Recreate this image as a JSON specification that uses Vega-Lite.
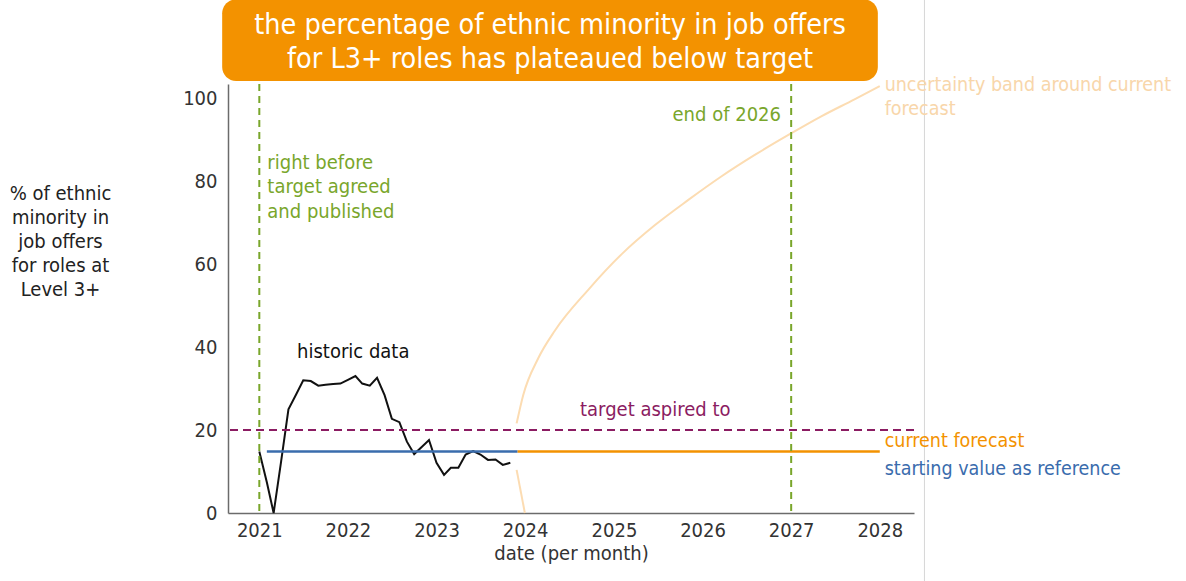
{
  "$schema": "https://vega.github.io/schema/vega-lite/v6.json",
  "width": 686,
  "height": 429,
  "autosize": {"type": "none"},
  "padding": {"left": 228, "top": 84, "right": 272, "bottom": 68},
  "background": "white",
  "config": {
    "view": {"stroke": null},
    "font": "DejaVu Sans Condensed",
    "axis": {"grid": false, "ticks": false, "domainColor": "#6b6b6b", "domainWidth": 1.5, "labelFontSize": 20, "labelColor": "#333333", "titleFontSize": 20, "titleFontWeight": "normal", "titleColor": "#333333"}
  },
  "datasets": {
    "historic": [
      {"month": "2021-01-01", "pct": 14.8},
      {"month": "2021-02-01", "pct": 7.4},
      {"month": "2021-03-01", "pct": 0.0},
      {"month": "2021-04-01", "pct": 12.5},
      {"month": "2021-05-01", "pct": 25.0},
      {"month": "2021-06-01", "pct": 28.5},
      {"month": "2021-07-01", "pct": 32.0},
      {"month": "2021-08-01", "pct": 31.8},
      {"month": "2021-09-01", "pct": 30.7},
      {"month": "2021-10-01", "pct": 30.9},
      {"month": "2021-11-01", "pct": 31.1},
      {"month": "2021-12-01", "pct": 31.2},
      {"month": "2022-01-01", "pct": 32.1},
      {"month": "2022-02-01", "pct": 33.0},
      {"month": "2022-03-01", "pct": 31.2},
      {"month": "2022-04-01", "pct": 30.7},
      {"month": "2022-05-01", "pct": 32.6},
      {"month": "2022-06-01", "pct": 28.4},
      {"month": "2022-07-01", "pct": 22.7},
      {"month": "2022-08-01", "pct": 21.9},
      {"month": "2022-09-01", "pct": 17.2},
      {"month": "2022-10-01", "pct": 14.2},
      {"month": "2022-11-01", "pct": 15.9},
      {"month": "2022-12-01", "pct": 17.6},
      {"month": "2023-01-01", "pct": 12.1},
      {"month": "2023-02-01", "pct": 9.2},
      {"month": "2023-03-01", "pct": 10.9},
      {"month": "2023-04-01", "pct": 10.9},
      {"month": "2023-05-01", "pct": 14.1},
      {"month": "2023-06-01", "pct": 14.9},
      {"month": "2023-07-01", "pct": 14.1},
      {"month": "2023-08-01", "pct": 12.8},
      {"month": "2023-09-01", "pct": 12.9},
      {"month": "2023-10-01", "pct": 11.6},
      {"month": "2023-11-01", "pct": 12.1}
    ],
    "reference": [
      {"month": "2021-02-01", "pct": 14.8},
      {"month": "2023-12-01", "pct": 14.8}
    ],
    "forecast": [
      {"month": "2023-12-01", "pct": 14.8},
      {"month": "2028-01-01", "pct": 14.8}
    ],
    "band": [
      {"branch": "upper", "month": "2023-11-27", "pct": 21.6},
      {"branch": "upper", "month": "2023-12-24", "pct": 28.4},
      {"branch": "upper", "month": "2024-02-24", "pct": 37.3},
      {"branch": "upper", "month": "2024-05-03", "pct": 44.0},
      {"branch": "upper", "month": "2024-09-17", "pct": 53.8},
      {"branch": "upper", "month": "2025-02-02", "pct": 62.4},
      {"branch": "upper", "month": "2025-06-19", "pct": 69.4},
      {"branch": "upper", "month": "2025-11-02", "pct": 75.4},
      {"branch": "upper", "month": "2026-03-19", "pct": 81.1},
      {"branch": "upper", "month": "2026-08-04", "pct": 86.3},
      {"branch": "upper", "month": "2026-12-26", "pct": 91.3},
      {"branch": "upper", "month": "2027-05-05", "pct": 95.6},
      {"branch": "upper", "month": "2027-09-19", "pct": 99.7},
      {"branch": "upper", "month": "2028-01-01", "pct": 102.9},
      {"branch": "lower", "month": "2023-11-27", "pct": 10.4},
      {"branch": "lower", "month": "2023-12-31", "pct": 0.0}
    ],
    "milestones": [
      {"month": "2021-01-01", "label": "right before target agreed and published"},
      {"month": "2027-01-01", "label": "end of 2026"}
    ],
    "target": [
      {"pct": 20, "label": "target aspired to"}
    ],
    "one": [{}]
  },
  "layer": [
    {
      "data": {"name": "historic"},
      "mark": {"type": "line", "color": "#111111", "strokeWidth": 2},
      "encoding": {
        "x": {
          "field": "month", "type": "temporal",
          "scale": {"type": "utc", "domain": [{"year": 2020, "month": 8, "date": 25, "utc": true}, {"year": 2028, "month": 5, "date": 21, "utc": true}], "nice": false},
          "axis": {
            "title": "date (per month)",
            "format": "%Y",
            "values": [
              {"year": 2021, "month": 1, "date": 1, "utc": true},
              {"year": 2022, "month": 1, "date": 1, "utc": true},
              {"year": 2023, "month": 1, "date": 1, "utc": true},
              {"year": 2024, "month": 1, "date": 1, "utc": true},
              {"year": 2025, "month": 1, "date": 1, "utc": true},
              {"year": 2026, "month": 1, "date": 1, "utc": true},
              {"year": 2027, "month": 1, "date": 1, "utc": true},
              {"year": 2028, "month": 1, "date": 1, "utc": true}
            ],
            "labelPadding": 7,
            "titlePadding": 3
          }
        },
        "y": {
          "field": "pct", "type": "quantitative",
          "scale": {"domain": [0, 103.4], "nice": false, "zero": true},
          "axis": {
            "values": [0, 20, 40, 60, 80, 100],
            "labelPadding": 11,
            "title": ["% of ethnic", "minority in", "job offers", "for roles at", "Level 3+"],
            "titleAngle": 0,
            "titleAlign": "center",
            "titleBaseline": "middle",
            "titleX": -168,
            "titleY": 109,
            "titleLineHeight": 24.2,
            "titleColor": "#222222"
          }
        }
      }
    },
    {
      "data": {"name": "reference"},
      "mark": {"type": "line", "color": "#3a6cad", "strokeWidth": 2.5},
      "encoding": {
        "x": {"field": "month", "type": "temporal"},
        "y": {"field": "pct", "type": "quantitative"}
      }
    },
    {
      "data": {"name": "forecast"},
      "mark": {"type": "line", "color": "#f39200", "strokeWidth": 2.5},
      "encoding": {
        "x": {"field": "month", "type": "temporal"},
        "y": {"field": "pct", "type": "quantitative"}
      }
    },
    {
      "data": {"name": "band"},
      "mark": {"type": "line", "color": "#fcdcb2", "strokeWidth": 2, "interpolate": "monotone"},
      "encoding": {
        "x": {"field": "month", "type": "temporal"},
        "y": {"field": "pct", "type": "quantitative"},
        "detail": {"field": "branch"}
      }
    },
    {
      "data": {"name": "target"},
      "mark": {"type": "rule", "color": "#8b1c62", "strokeWidth": 2, "strokeDash": [8, 5]},
      "encoding": {
        "y": {"field": "pct", "type": "quantitative"}
      }
    },
    {
      "data": {"name": "milestones"},
      "mark": {"type": "rule", "color": "#79a62b", "strokeWidth": 2, "strokeDash": [7, 5]},
      "encoding": {
        "x": {"field": "month", "type": "temporal"}
      }
    },
    {
      "data": {"name": "one"},
      "mark": {"type": "rule", "color": "#d6d6d6", "strokeWidth": 1},
      "encoding": {
        "x": {"datum": {"year": 2028, "month": 7, "date": 3, "utc": true}, "type": "temporal"},
        "y": {"datum": -16.4},
        "y2": {"datum": 123.8}
      }
    },
    {
      "data": {"name": "one"},
      "mark": {"type": "rect", "color": "#f39200", "cornerRadius": 14},
      "encoding": {
        "x": {"datum": {"year": 2020, "month": 8, "date": 1, "utc": true}, "type": "temporal"},
        "x2": {"datum": {"year": 2027, "month": 12, "date": 24, "utc": true}},
        "y": {"datum": 104.1},
        "y2": {"datum": 123.8}
      }
    },
    {
      "data": {"name": "one"},
      "mark": {"type": "text", "text": ["the percentage of ethnic minority in job offers", "for L3+ roles has plateaued below target"], "color": "white", "fontSize": 28.5, "lineHeight": 33.5, "align": "center", "baseline": "middle"},
      "encoding": {
        "x": {"datum": {"year": 2024, "month": 4, "date": 13, "utc": true}, "type": "temporal"},
        "y": {"datum": 117.6}
      }
    },
    {
      "data": {"name": "one"},
      "mark": {"type": "text", "text": ["right before", "target agreed", "and published"], "color": "#79a62b", "fontSize": 20, "lineHeight": 24.5, "align": "left", "baseline": "middle"},
      "encoding": {
        "x": {"datum": {"year": 2021, "month": 2, "date": 3, "utc": true}, "type": "temporal"},
        "y": {"datum": 84.4}
      }
    },
    {
      "data": {"name": "one"},
      "mark": {"type": "text", "text": "end of 2026", "color": "#79a62b", "fontSize": 20, "align": "right", "baseline": "middle"},
      "encoding": {
        "x": {"datum": {"year": 2026, "month": 11, "date": 20, "utc": true}, "type": "temporal"},
        "y": {"datum": 95.9}
      }
    },
    {
      "data": {"name": "one"},
      "mark": {"type": "text", "text": "historic data", "color": "#111111", "fontSize": 20, "align": "center", "baseline": "middle"},
      "encoding": {
        "x": {"datum": {"year": 2022, "month": 1, "date": 23, "utc": true}, "type": "temporal"},
        "y": {"datum": 38.8}
      }
    },
    {
      "data": {"name": "one"},
      "mark": {"type": "text", "text": "target aspired to", "color": "#8b1c62", "fontSize": 20, "align": "center", "baseline": "middle"},
      "encoding": {
        "x": {"datum": {"year": 2025, "month": 6, "date": 20, "utc": true}, "type": "temporal"},
        "y": {"datum": 24.8}
      }
    },
    {
      "data": {"name": "one"},
      "mark": {"type": "text", "text": "current forecast", "color": "#f39200", "fontSize": 19.5, "align": "left", "baseline": "middle"},
      "encoding": {
        "x": {"datum": {"year": 2028, "month": 1, "date": 21, "utc": true}, "type": "temporal"},
        "y": {"datum": 17.3}
      }
    },
    {
      "data": {"name": "one"},
      "mark": {"type": "text", "text": "starting value as reference", "color": "#3a6cad", "fontSize": 19.5, "align": "left", "baseline": "middle"},
      "encoding": {
        "x": {"datum": {"year": 2028, "month": 1, "date": 21, "utc": true}, "type": "temporal"},
        "y": {"datum": 10.6}
      }
    },
    {
      "data": {"name": "one"},
      "mark": {"type": "text", "text": ["uncertainty band around current", "forecast"], "color": "#f8d6aa", "fontSize": 19.5, "lineHeight": 24.5, "align": "left", "baseline": "middle"},
      "encoding": {
        "x": {"datum": {"year": 2028, "month": 1, "date": 21, "utc": true}, "type": "temporal"},
        "y": {"datum": 103.2}
      }
    }
  ]
}
